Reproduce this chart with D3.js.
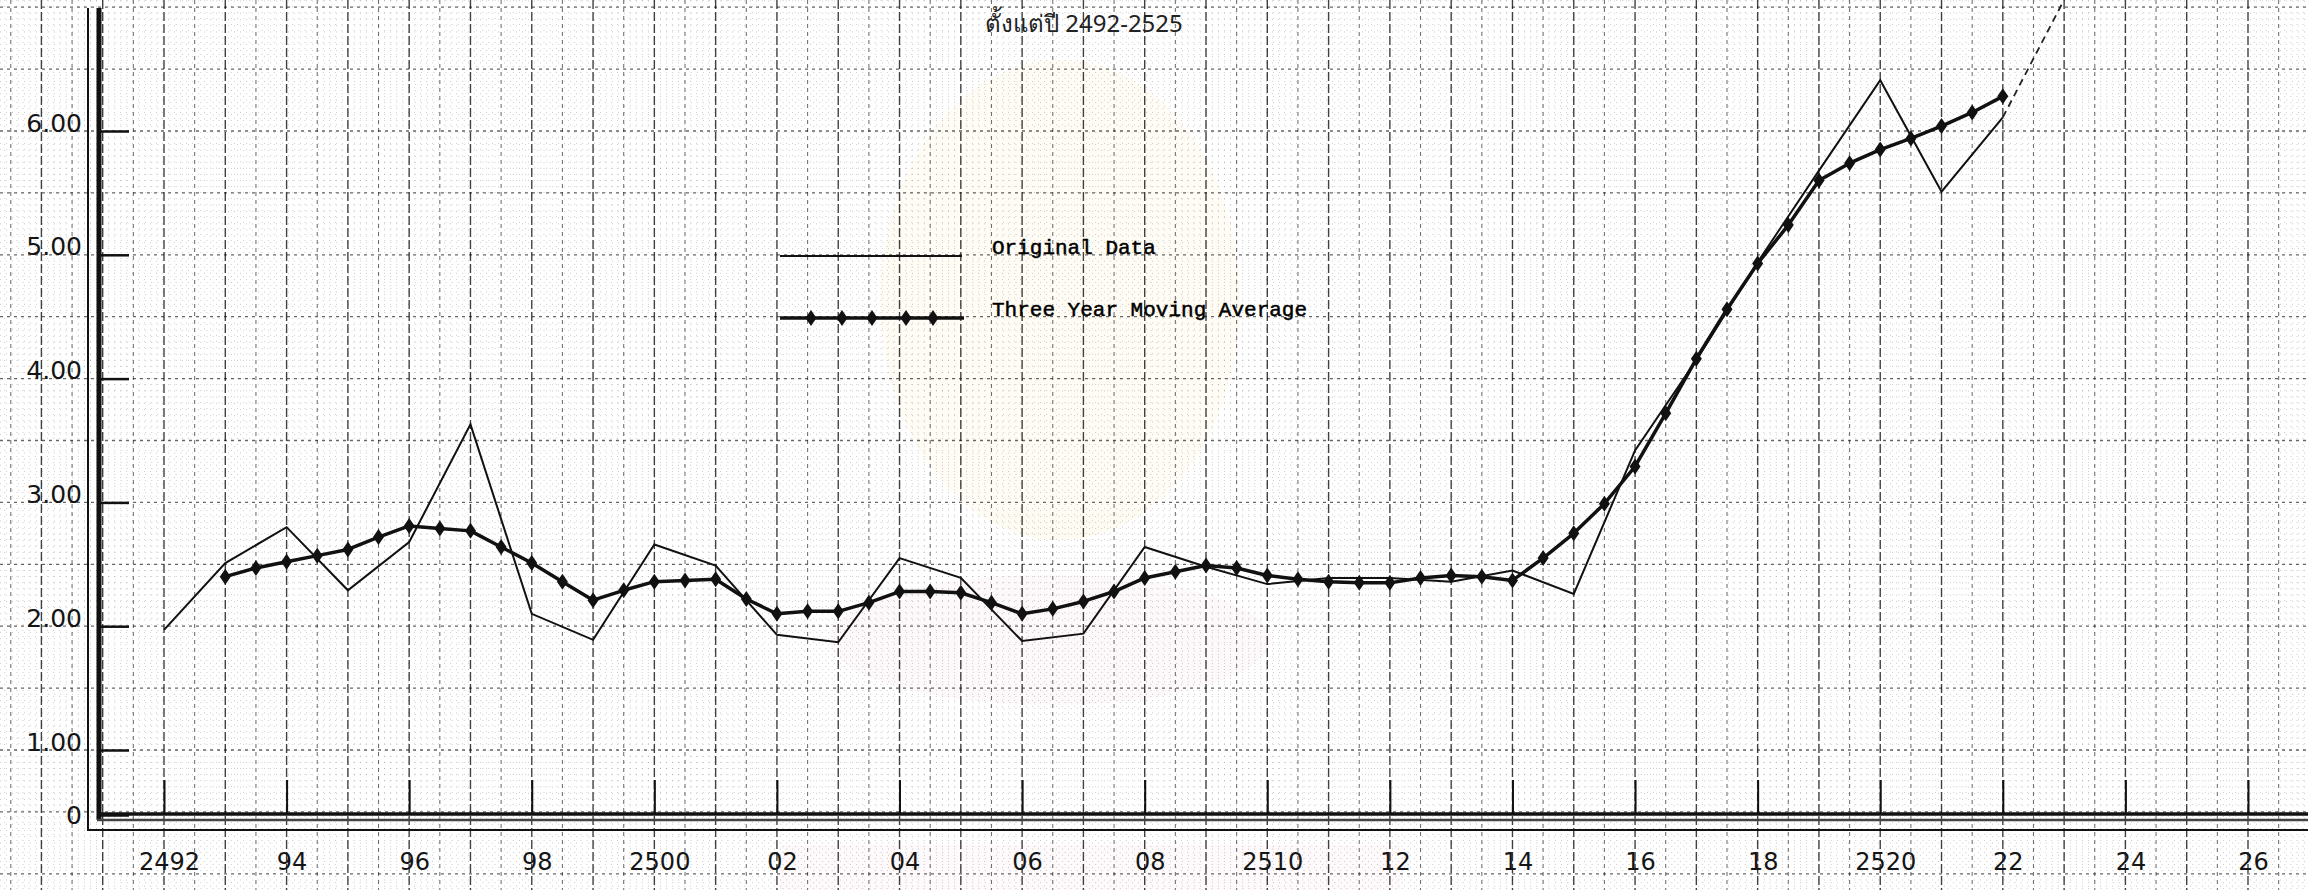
<!DOCTYPE html>
<html>
<head>
<meta charset="utf-8">
<script src="https://cdn.jsdelivr.net/npm/d3@7/dist/d3.min.js"></script>
<style>
  body { margin: 0; background: #fff; }
  svg { display: block; }
  .tick text { font-family: "DejaVu Sans", sans-serif; fill: #151515; }
</style>
</head>
<body>
<div id="chart"></div>
<script>
// values (Thai years, B.E.)
var dataYears = [2492, 2493, 2494, 2495, 2496, 2497, 2498, 2499, 2500, 2501,
  2502, 2503, 2504, 2505, 2506, 2507, 2508, 2509, 2510, 2511,
  2512, 2513, 2514, 2515, 2516, 2517, 2518, 2519, 2520, 2521, 2522];
var originalValues = [1.97, 2.51, 2.80, 2.29, 2.68, 3.63, 2.10, 1.89, 2.66, 2.49,
  1.93, 1.87, 2.55, 2.39, 1.88, 1.94, 2.64, 2.48, 2.34, 2.39,
  2.39, 2.36, 2.45, 2.26, 3.42, 4.15, 4.94, 5.68, 6.41, 5.51, 6.11];

var avgYears = [2493, 2493.5, 2494, 2494.5, 2495, 2495.5, 2496, 2496.5, 2497, 2497.5,
  2498, 2498.5, 2499, 2499.5, 2500, 2500.5, 2501, 2501.5, 2502, 2502.5,
  2503, 2503.5, 2504, 2504.5, 2505, 2505.5, 2506, 2506.5, 2507, 2507.5,
  2508, 2508.5, 2509, 2509.5, 2510, 2510.5, 2511, 2511.5, 2512, 2512.5,
  2513, 2513.5, 2514, 2514.5, 2515, 2515.5, 2516, 2516.5, 2517, 2517.5,
  2518, 2518.5, 2519, 2519.5, 2520, 2520.5, 2521, 2521.5, 2522];
var avgValues = [2.40, 2.47, 2.52, 2.57, 2.62, 2.72, 2.81, 2.79, 2.77, 2.64,
  2.51, 2.36, 2.21, 2.29, 2.36, 2.37, 2.38, 2.22, 2.10, 2.12,
  2.12, 2.19, 2.28, 2.28, 2.27, 2.19, 2.10, 2.14, 2.20, 2.28,
  2.39, 2.44, 2.49, 2.47, 2.41, 2.38, 2.36, 2.35, 2.35, 2.39,
  2.41, 2.40, 2.37, 2.55, 2.75, 2.99, 3.29, 3.72, 4.16, 4.56,
  4.93, 5.24, 5.60, 5.74, 5.85, 5.94, 6.04, 6.15, 6.28];

// hand-drawn projection past the last year
var trendYears = [2522, 2523.2];
var trendValues = [6.11, 7.25];

var yTickValues = [0, 1, 2, 3, 4, 5, 6];
var yTickLabels = ["0", "1.00", "2.00", "3.00", "4.00", "5.00", "6.00"];
var xTickValues = [2492, 2494, 2496, 2498, 2500, 2502, 2504, 2506, 2508, 2510,
  2512, 2514, 2516, 2518, 2520, 2522, 2524, 2526];
var xTickLabels = ["2492", "94", "96", "98", "2500", "02", "04", "06", "08", "2510",
  "12", "14", "16", "18", "2520", "22", "24", "26"];

var titleText = "ตั้งแต่ปี 2492-2525";
var legendLabels = ["Original Data", "Three Year Moving Average"];

// page size
var svgWidth = 2308;
var svgHeight = 890;

var svg = d3.select("#chart")
  .append("svg")
  .attr("width", svgWidth)
  .attr("height", svgHeight);

svg.append("rect")
  .attr("width", svgWidth)
  .attr("height", svgHeight)
  .attr("fill", "#fff");

// scales: the value axis is broken between 0 and 1
var xScale = d3.scaleLinear().domain([2492, 2526]).range([164, 2248]);
var yScale = d3.scaleLinear().domain([0, 1, 6]).range([815, 750, 131]);
// the graph paper itself is uniform
var yPaper = d3.scaleLinear().domain([1, 6]).range([750, 131]);

// very faint watermark of the scan
var wm = svg.append("g").attr("opacity", 0.18);
wm.append("ellipse").attr("cx", 1060).attr("cy", 300).attr("rx", 180).attr("ry", 240)
  .attr("fill", "#fbeec0");
wm.append("ellipse").attr("cx", 1050).attr("cy", 640).attr("rx", 220).attr("ry", 65)
  .attr("fill", "#f9d9e3");
wm.append("rect").attr("x", 780).attr("y", 845).attr("width", 620).attr("height", 45)
  .attr("fill", "#f9dce6");

// graph paper grid
var grid = svg.append("g").attr("class", "grid");

var vLines = d3.range(24893, 25270).map(function(d) { return d / 10; });
grid.selectAll("line.v")
  .data(vLines)
  .enter()
  .append("line")
  .attr("x1", d => xScale(d))
  .attr("x2", d => xScale(d))
  .attr("y1", 0)
  .attr("y2", svgHeight)
  .attr("stroke", "#000")
  .attr("stroke-width", function(d) {
    var t = Math.round(d * 10);
    if (t % 10 === 0) return 1.4;
    if (t % 5 === 0) return 1.1;
    return 1;
  })
  .attr("stroke-opacity", function(d) {
    var t = Math.round(d * 10);
    if (t % 10 === 0) return 0.75;
    if (t % 5 === 0) return 0.55;
    return 0.2;
  })
  .attr("stroke-dasharray", function(d) {
    var t = Math.round(d * 10);
    if (t % 10 === 0) return "9,3";
    if (t % 5 === 0) return "4,4";
    return "1,5";
  });

var hLines = d3.range(-3, 143).map(function(d) { return d / 20; });
grid.selectAll("line.h")
  .data(hLines)
  .enter()
  .append("line")
  .attr("x1", 0)
  .attr("x2", svgWidth)
  .attr("y1", d => yPaper(d))
  .attr("y2", d => yPaper(d))
  .attr("stroke", "#000")
  .attr("stroke-width", d => Math.round(d * 20) % 10 === 0 ? 1.3 : 1)
  .attr("stroke-opacity", d => Math.round(d * 20) % 10 === 0 ? 0.6 : 0.2)
  .attr("stroke-dasharray", d => Math.round(d * 20) % 10 === 0 ? "3,4" : "1,5");

// title at the top edge
svg.append("text")
  .attr("x", 985)
  .attr("y", 32)
  .attr("font-family", "'Noto Sans', 'DejaVu Sans', sans-serif")
  .attr("font-size", 24)
  .attr("fill", "#222")
  .text(titleText);

// axes
var yAxis = d3.axisLeft(yScale)
  .tickValues(yTickValues)
  .tickFormat((d, i) => yTickLabels[i])
  .tickSizeInner(-30)
  .tickSizeOuter(0)
  .tickPadding(17);

var yAxisGroup = svg.append("g")
  .attr("transform", "translate(99, 0)")
  .call(yAxis);
yAxisGroup.select(".domain").remove();
yAxisGroup.selectAll(".tick line").attr("stroke", "#111").attr("stroke-width", 2.5);
yAxisGroup.selectAll(".tick text")
  .attr("font-size", 25)
  .attr("dy", d => d === 0 ? "0.35em" : "0em");

var xAxis = d3.axisBottom(xScale)
  .tickValues(xTickValues)
  .tickFormat((d, i) => xTickLabels[i])
  .tickSizeInner(-35)
  .tickSizeOuter(0)
  .tickPadding(38);

var xAxisGroup = svg.append("g")
  .attr("transform", "translate(0, 815)")
  .call(xAxis);
xAxisGroup.select(".domain").remove();
xAxisGroup.selectAll(".tick line").attr("stroke", "#111").attr("stroke-width", 2);
xAxisGroup.selectAll(".tick text")
  .attr("font-size", 24)
  .attr("x", 5);

// heavy axis frame
var frame = svg.append("g").attr("stroke", "#111").attr("fill", "none");
frame.append("line").attr("x1", 99).attr("x2", 99).attr("y1", 8).attr("y2", 820)
  .attr("stroke-width", 5);
frame.append("line").attr("x1", 88).attr("x2", 88).attr("y1", 8).attr("y2", 830)
  .attr("stroke-width", 2);
frame.append("line").attr("x1", 97).attr("x2", svgWidth).attr("y1", 814).attr("y2", 814)
  .attr("stroke-width", 3.5);
frame.append("line").attr("x1", 97).attr("x2", svgWidth).attr("y1", 820).attr("y2", 820)
  .attr("stroke-width", 2.5).attr("stroke", "#444");
frame.append("line").attr("x1", 87).attr("x2", svgWidth).attr("y1", 830).attr("y2", 830)
  .attr("stroke-width", 2);

// data lines
var originalLine = d3.line()
  .x((d, i) => xScale(dataYears[i]))
  .y(d => yScale(d));

svg.append("path")
  .datum(originalValues)
  .attr("d", originalLine)
  .attr("fill", "none")
  .attr("stroke", "#111")
  .attr("stroke-width", 2)
  .attr("stroke-linejoin", "miter");

var trendLine = d3.line()
  .x((d, i) => xScale(trendYears[i]))
  .y(d => yScale(d));

svg.append("path")
  .datum(trendValues)
  .attr("d", trendLine)
  .attr("fill", "none")
  .attr("stroke", "#222")
  .attr("stroke-width", 1.8)
  .attr("stroke-dasharray", "7,5");

var avgLine = d3.line()
  .x((d, i) => xScale(avgYears[i]))
  .y(d => yScale(d));

svg.append("path")
  .datum(avgValues)
  .attr("d", avgLine)
  .attr("fill", "none")
  .attr("stroke", "#111")
  .attr("stroke-width", 3.5)
  .attr("stroke-linejoin", "round");

var diamond = "M0,-8L5.5,0L0,8L-5.5,0Z";

svg.append("g")
  .selectAll("path")
  .data(avgValues)
  .enter()
  .append("path")
  .attr("d", diamond)
  .attr("transform", (d, i) => `translate(${xScale(avgYears[i])}, ${yScale(d)})`)
  .attr("fill", "#111");

// legend
var legend = svg.append("g");
legend.append("line")
  .attr("x1", 780).attr("x2", 962).attr("y1", 256).attr("y2", 256)
  .attr("stroke", "#111").attr("stroke-width", 2.2);
legend.append("line")
  .attr("x1", 780).attr("x2", 964).attr("y1", 318).attr("y2", 318)
  .attr("stroke", "#111").attr("stroke-width", 3.5);
legend.selectAll("path")
  .data([811, 842, 872, 906, 933])
  .enter()
  .append("path")
  .attr("d", diamond)
  .attr("transform", d => `translate(${d}, 318)`)
  .attr("fill", "#111");

legend.selectAll("text")
  .data(legendLabels)
  .enter()
  .append("text")
  .attr("x", 992)
  .attr("y", (d, i) => i === 0 ? 254 : 316)
  .attr("font-family", "'Liberation Mono', 'DejaVu Sans Mono', monospace")
  .attr("font-size", 21)
  .attr("fill", "#000")
  .attr("stroke", "#000")
  .attr("stroke-width", 0.5)
  .text(d => d);
</script>
</body>
</html>
